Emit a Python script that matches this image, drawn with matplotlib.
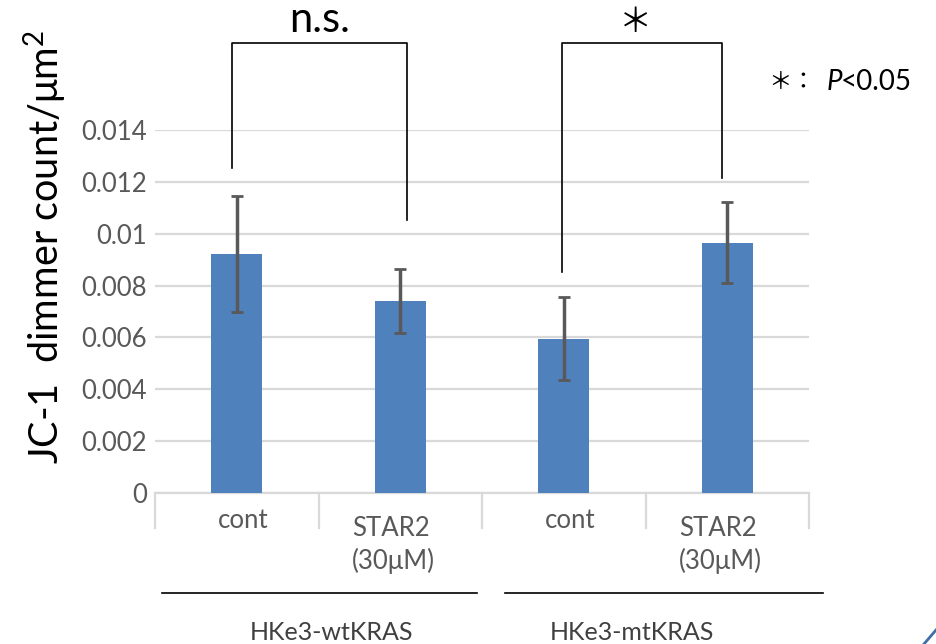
import matplotlib
matplotlib.use('Agg')
import matplotlib.pyplot as plt
from matplotlib.transforms import blended_transform_factory
from matplotlib.lines import Line2D

plt.rcParams['font.family'] = ['Lato', 'Noto Sans CJK JP', 'DejaVu Sans']
plt.rcParams['mathtext.fontset'] = 'custom'
plt.rcParams['mathtext.rm'] = 'Lato'
plt.rcParams['mathtext.it'] = 'Lato:italic'

# ---- data ----
categories = ['cont', 'STAR2\n(30μM)', 'cont', 'STAR2\n(30μM)']
groups = ['HKe3-wtKRAS', 'HKe3-mtKRAS']
values = [0.00922, 0.00740, 0.00594, 0.00965]
errors = [0.00225, 0.00122, 0.00160, 0.00157]
yticks = [0, 0.002, 0.004, 0.006, 0.008, 0.010, 0.012, 0.014]
ytick_labels = ['0', '0.002', '0.004', '0.006', '0.008', '0.01', '0.012', '0.014']
# bracket: (x_left, x_right, y_left_end, y_right_end, y_top, label)
brackets = [(-0.03, 1.04, 0.01253, 0.01053, 0.01737, 'n.s.'),
            (1.99, 2.97, 0.00852, 0.01214, 0.01737, '＊')]

W, H = 936, 644
fig = plt.figure(figsize=(W / 100, H / 100), dpi=100)
ax = fig.add_axes([155 / W, (H - 493) / H, 654 / W, 363 / H])

x = list(range(len(values)))
ax.bar(x, values, width=0.31, color='#4f81bd', zorder=3)
ax.errorbar(x, values, yerr=errors, fmt='none', ecolor='#595959',
            elinewidth=2.5, capsize=4, capthick=2, zorder=4)

ax.set_xlim(-0.5, 3.5)
ax.set_ylim(0, 0.014)
ax.set_yticks(yticks)
ax.set_yticklabels(ytick_labels)
ax.tick_params(axis='y', length=0, pad=6, labelsize=18.5, labelcolor='#595959')
ax.set_xticks([])
ax.grid(axis='y', color='#d9d9d9', linewidth=1.6, zorder=0)
ax.set_axisbelow(True)
for s in ['left', 'right', 'top']:
    ax.spines[s].set_visible(False)
ax.spines['bottom'].set_color('#d9d9d9')
ax.spines['bottom'].set_linewidth(1.6)

bt = blended_transform_factory(ax.transData, fig.transFigure)
# category separators below axis
for sx in [-0.5, 0.5, 1.5, 2.5, 3.5]:
    ax.plot([sx, sx], [(H - 493) / H, (H - 528) / H], transform=bt,
            color='#d9d9d9', lw=1.6, clip_on=False)
# category labels
for i, lab in enumerate(categories):
    if '\n' in lab:
        ax.text(i - 0.04, (H - 545) / H, lab, transform=bt, ha='center', va='center',
                multialignment='left', fontsize=18.5, color='#595959', linespacing=1.3)
    else:
        ax.text(i + 0.04, (H - 521) / H, lab, transform=bt, ha='center', va='center',
                fontsize=18.5, color='#595959')

# group lines and labels
group_lines = [(-0.457, 1.469), (1.64, 3.586)]
group_label_x = [0.58, 2.42]
for (x0, x1), gx, g in zip(group_lines, group_label_x, groups):
    ax.plot([x0, x1], [(H - 593) / H] * 2, transform=bt, color='black', lw=1.2, clip_on=False)
    ax.text(gx, (H - 632) / H, g, transform=bt, ha='center', va='center',
            fontsize=18, color='#404040')

# significance brackets
for xl, xr, yl, yr, yt, lab in brackets:
    ax.plot([xl, xl, xr, xr], [yl, yt, yt, yr], color='black', lw=1.2,
            clip_on=False, zorder=5)
    if lab == 'n.s.':
        ax.text((xl + xr) / 2, (H - 32) / H, lab, transform=bt, ha='center', va='baseline',
                fontsize=30, color='black')
    else:
        ax.text((xl + xr) / 2 - 0.04, (H - 22) / H, lab, transform=bt, ha='center',
                va='center', fontsize=24, color='black',
                family=['Noto Sans CJK JP', 'DejaVu Sans'])

# p-value note
fig.text(768 / W, (H - 82) / H, '＊：', ha='left', va='center', fontsize=17,
         family=['Noto Sans CJK JP', 'DejaVu Sans'])
fig.text(827 / W, (H - 82) / H, 'P', ha='left', va='center', fontsize=20, style='italic')
fig.text(841 / W, (H - 82) / H, '<0.05', ha='left', va='center', fontsize=20)

# y label
fig.text(45 / W, (H - 247) / H, 'JC-1  dimmer count/μm$^{2}$', rotation=90,
         ha='center', va='center', fontsize=28.5, color='black')

# slide decoration in the bottom-right corner
fig.add_artist(Line2D([924 / W, 1.0], [0.0, (H - 630) / H], transform=fig.transFigure,
                      color='#3f6fa8', lw=2))

fig.savefig('out.png', dpi=100)
